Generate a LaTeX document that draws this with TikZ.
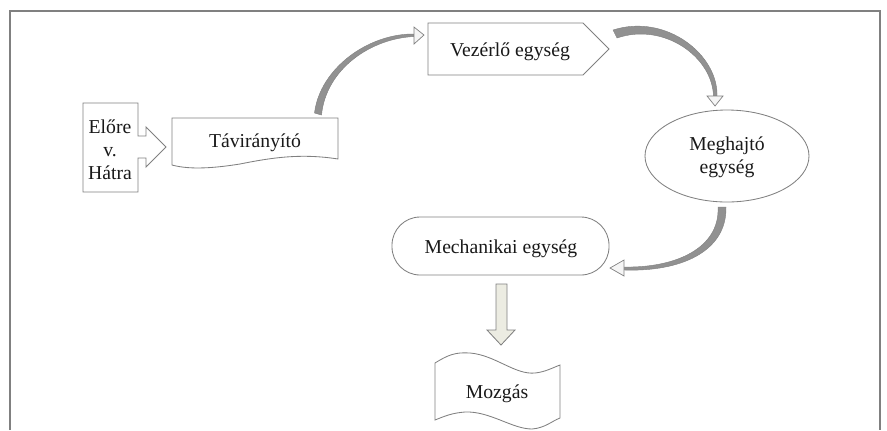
\documentclass[tikz,border=0pt]{standalone}
\usepackage{fontspec}
\setmainfont{Liberation Serif}
\definecolor{outl}{RGB}{128,128,128}
\definecolor{frm}{RGB}{128,128,128}
\definecolor{bodyg}{RGB}{145,145,145}
\definecolor{headg}{RGB}{245,245,245}
\definecolor{khaki}{RGB}{236,236,226}
\tikzset{
  shp/.style={draw=outl, line width=0.6pt, fill=white},
  lbl/.style={inner sep=0pt, font=\fontsize{14}{16.4}\selectfont, text=black!90},
  cbody/.style={fill=bodyg, draw=outl, line width=0.3pt},
  chead/.style={fill=headg, draw=outl, line width=0.5pt, line join=miter},
}
\begin{document}
\begin{tikzpicture}[x=0.025cm,y=-0.025cm]
\useasboundingbox (0,0) rectangle (887,430);
% frame
\draw[frm, line width=1.4pt] (10,430) -- (10,11) -- (880,11) -- (880,430);

% Elore v. Hatra callout
\draw[shp] (83,103) -- (138,103) -- (138,136) -- (146,136) -- (146,127) -- (166,147)
  -- (146,167) -- (146,158) -- (138,158) -- (138,192) -- (83,192) -- cycle;
\node[lbl, align=center] (elore) at (110,150) {Előre\\v.\\Hátra};

% Taviranyito document shape
\draw[shp] (172,118) -- (338,118) -- (338,159)
  .. controls (300,153) and (270,158) .. (240,164)
  .. controls (215,168) and (190,170) .. (172,165) -- cycle;
\node[lbl, anchor=base] (tavir) at (255,147) {Távirányító};

% Vezerlo pentagon
\draw[shp] (428,23) -- (583,23) -- (609,49) -- (583,75) -- (428,75) -- cycle;
\node[lbl, anchor=base] (vezerlo) at (510,56) {Vezérlő egység};

% Meghajto ellipse
\draw[shp] (727,156) ellipse [x radius=82, y radius=46];
\node[lbl, align=center] (meghajto) at (727,157) {Meghajtó\\egység};

% Mechanikai stadium
\draw[shp, rounded corners=20pt] (392,217) rectangle (609,275);
\node[lbl, anchor=base] (mech) at (501,253) {Mechanikai egység};

% block arrow down
\draw[draw=outl, line width=0.6pt, fill=khaki] (496,284) -- (507,284) -- (507,330) -- (515,330)
  -- (501,345) -- (487,330) -- (496,330) -- cycle;

% Mozgas wave
\draw[shp] (435,363) .. controls (448,355) and (455,352) .. (470,353)
  .. controls (495,355) and (515,375) .. (535,373)
  .. controls (545,372) and (552,368) .. (560,365)
  -- (560,418)
  .. controls (552,421) and (545,428) .. (532,429)
  .. controls (512,429) and (490,411) .. (465,412)
  .. controls (452,413) and (445,416) .. (435,420) -- cycle;
\node[lbl, anchor=base] (mozgas) at (497,398) {Mozgás};

% curved arrow 1: Taviranyito -> Vezerlo
\coordinate (a1e) at (424,35);
\draw[cbody] (314.5,113) .. controls (320,68) and (369,33) .. (415,34)
  -- (415,36.5) .. controls (371,38) and (326,69) .. (321.5,115) -- cycle;
\draw[chead] (414,27) -- (a1e) -- (414,44) -- cycle;

% curved arrow 2: Vezerlo -> Meghajto
\coordinate (a2e) at (715,106);
\draw[cbody] (613,30) .. controls (666,13) and (719,55) .. (717,97)
  -- (713.5,97) .. controls (713,57) and (664,22) .. (617,38) -- cycle;
\draw[chead] (707,96) -- (723,96) -- (a2e) -- cycle;

% curved arrow 3: Meghajto -> Mechanikai
\coordinate (a3e) at (610,268);
\draw[cbody] (726,207) .. controls (727,252) and (680,272) .. (624,270)
  -- (624,267) .. controls (676,268) and (720,248) .. (718,207) -- cycle;
\draw[chead] (624,260) -- (a3e) -- (624,276) -- cycle;
\end{tikzpicture}
\end{document}
